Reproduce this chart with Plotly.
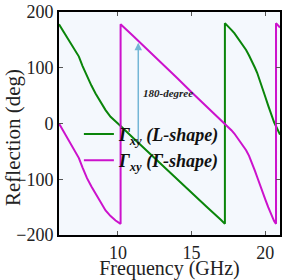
import plotly.graph_objects as go

# Green: Γxy (L-shape)
green_f = [6.0, 6.3, 6.67, 7.0, 7.35, 7.6, 7.9, 8.2, 8.48, 8.8, 9.16, 9.5, 9.84, 10.2,
           11.0, 12.0, 13.0, 14.0, 15.0, 16.0, 17.0, 17.26,
           17.26, 17.5, 17.7, 17.9, 18.1, 18.3, 18.5, 18.7, 18.9, 19.1, 19.3, 19.45, 19.6,
           19.8, 20.0, 20.2, 20.4, 20.6, 20.73, 20.85, 21.0]
green_v = [178, 165, 150, 136, 120, 103, 84, 68, 54, 39, 24, 12, 3, -5,
           -25, -50, -74, -99, -124, -149, -173, -180,
           180, 174, 168, 162, 155, 148, 140, 132, 122, 112, 100, 91, 80,
           65, 48, 32, 16, 2, -5, -11, -20]

# Magenta: Γxy (Γ-shape)
mag_f = [6.0, 6.3, 6.67, 7.0, 7.35, 7.6, 7.9, 8.2, 8.48, 8.8, 9.16, 9.5, 9.84, 10.18,
         10.18, 11.0, 12.0, 13.0, 14.0, 15.0, 16.0, 17.0, 17.26,
         17.5, 17.7, 17.9, 18.1, 18.3, 18.5, 18.7, 18.9, 19.1, 19.3, 19.45, 19.6,
         19.8, 20.0, 20.2, 20.4, 20.6, 20.73,
         20.73, 21.0]
mag_v = [0, -14, -30, -45, -62, -79, -98, -113, -126, -141, -156, -166, -174, -180,
         178, 158, 133, 107, 82, 56, 31, 6, -1,
         -6, -12, -18, -25, -32, -40, -48, -58, -70, -85, -96, -108,
         -122, -136, -150, -163, -175, -180,
         180, 172]

x_ticks = [10, 15, 20]
y_ticks = [-200, -100, 0, 100, 200]

arrow_x = 11.38
arrow_y0 = -35
arrow_y1 = 145

FONT = "Liberation Serif"

fig = go.Figure()
fig.add_trace(go.Scatter(x=green_f, y=green_v, mode="lines",
                         line=dict(color="#0a850a", width=2),
                         name="<b><i>Γ<sub>xy</sub> (L-shape)</i></b>"))
fig.add_trace(go.Scatter(x=mag_f, y=mag_v, mode="lines",
                         line=dict(color="#cc12cc", width=2),
                         name="<b><i>Γ<sub>xy</sub> (Γ-shape)</i></b>"))

fig.add_annotation(x=arrow_x, y=arrow_y1, ax=arrow_x, ay=arrow_y0,
                   xref="x", yref="y", axref="x", ayref="y",
                   showarrow=True, arrowhead=2, arrowsize=1, arrowwidth=1.5,
                   arrowcolor="#74b6d6", text="")
fig.add_annotation(x=13.4, y=55, xref="x", yref="y", showarrow=False,
                   text="<b><i>180-degree</i></b>",
                   font=dict(family=FONT, size=11, color="#222"))

# y-axis title
fig.add_annotation(x=13, y=138, xref="paper", yref="paper", showarrow=False,
                   text="Reflection (deg)", textangle=-90,
                   font=dict(family=FONT, size=21, color="#222"))

axis_common = dict(showline=True, linecolor="black", linewidth=2, mirror="ticks",
                   ticks="inside", ticklen=4, tickcolor="#555", showgrid=False,
                   zeroline=False, automargin=False,
                   tickfont=dict(family=FONT, size=18, color="#222"))

fig.update_xaxes(range=[6, 21], tickvals=x_ticks,
                 title=dict(text="Frequency (GHz)", font=dict(family=FONT, size=20, color="#222"), standoff=0),
                 **axis_common)
fig.update_yaxes(range=[-200, 200], tickvals=y_ticks, **axis_common)

W, H = 283, 280
ML, MR, MT, MB = 59, 3, 12, 45
fig.update_layout(
    width=W, height=H,
    margin=dict(l=ML, r=MR, t=MT, b=MB, autoexpand=False),
    plot_bgcolor="#f4f8fd", paper_bgcolor="white",
    font=dict(family=FONT),
    showlegend=True,
    legend=dict(x=0.09, y=0.535, xanchor="left", yanchor="top",
                bgcolor="rgba(0,0,0,0)", borderwidth=0,
                font=dict(family=FONT, size=18, color="#111"),
                tracegroupgap=0),
)

# convert y-title annotation from pixel to paper coordinates
ann = fig.layout.annotations[-1]
pw, ph = W - ML - MR, H - MT - MB
ann.x = (13 - ML) / pw
ann.y = (H - MB - 138) / ph
ann.xanchor = "center"
ann.yanchor = "middle"

fig.write_html("out.html",
               config={"displayModeBar": False},
               post_script="document.body.style.margin='0';document.body.style.padding='0';")
